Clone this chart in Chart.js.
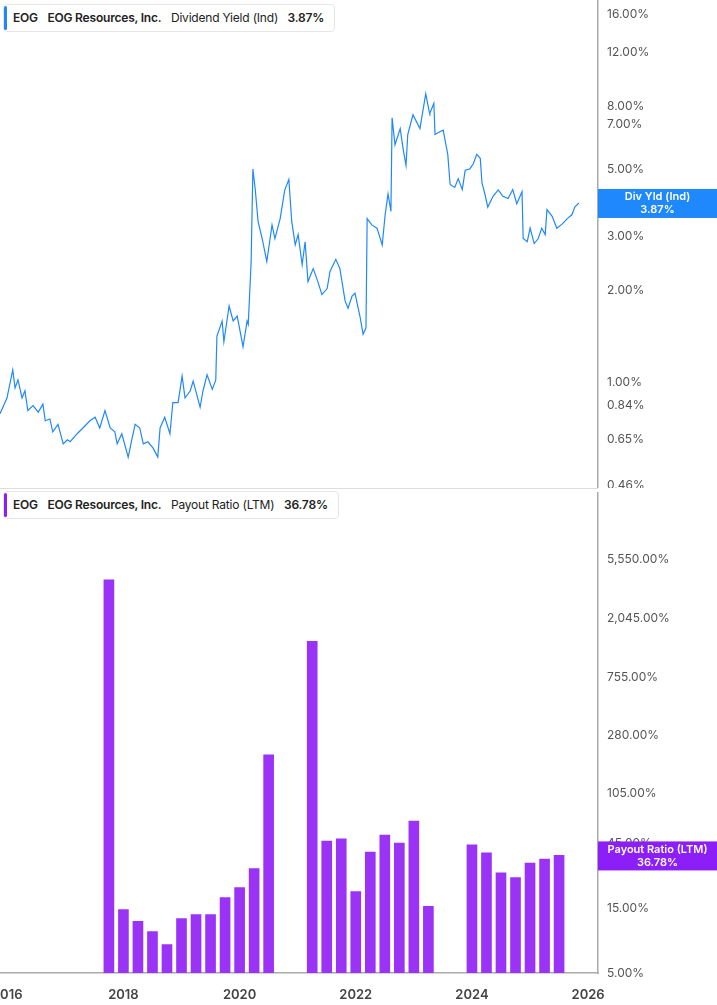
<!DOCTYPE html>
<html><head><meta charset="utf-8">
<script src="https://cdn.jsdelivr.net/npm/chart.js@4"></script>
<style>
body{margin:0;width:717px;height:1005px;overflow:hidden;background:#fff;font-family:Inter,sans-serif;}
.clip{position:absolute;left:0;width:717px;overflow:hidden;}
#c1w{position:absolute;left:0;top:-12px;width:717px;height:514px;}
#c2w{position:absolute;left:-14px;top:-8px;width:731px;height:525px;}
.leg{position:absolute;left:3px;height:26px;line-height:26px;border:1px solid #e6e6e6;border-radius:4px;background:#fff;font-size:12px;letter-spacing:-0.2px;color:#222;padding:0 10px 0 9px;white-space:pre;}
.leg:before{content:"";position:absolute;left:0;top:1px;bottom:1px;width:3px;border-radius:2px;background:var(--c);}
.leg b{font-weight:600;}
</style></head><body>
<div class="clip" style="top:0;height:488px"><div id="c1w"><canvas id="c1"></canvas></div></div>
<div class="clip" style="top:488px;height:517px"><div id="c2w"><canvas id="c2"></canvas></div></div>
<div class="leg" style="top:4px;--c:#1e88fc"><b>EOG</b>   <b>EOG Resources, Inc.</b>   Dividend Yield (Ind)   <b>3.87%</b></div>
<div class="leg" style="top:491px;--c:#8c1ef7"><b>EOG</b>   <b>EOG Resources, Inc.</b>   Payout Ratio (LTM)   <b>36.78%</b></div>
<script>
const yieldDates=[2015.86,2015.98,2016.08,2016.12,2016.17,2016.24,2016.29,2016.34,2016.43,2016.52,2016.60,2016.64,2016.72,2016.77,2016.86,2016.95,2017.02,2017.07,2017.19,2017.29,2017.41,2017.50,2017.58,2017.67,2017.76,2017.84,2017.88,2017.96,2018.07,2018.14,2018.19,2018.27,2018.33,2018.41,2018.50,2018.58,2018.62,2018.70,2018.79,2018.84,2018.93,2019.00,2019.05,2019.14,2019.19,2019.31,2019.36,2019.43,2019.52,2019.58,2019.60,2019.69,2019.72,2019.81,2019.88,2019.95,2020.05,2020.12,2020.14,2020.19,2020.22,2020.26,2020.31,2020.38,2020.46,2020.55,2020.60,2020.69,2020.77,2020.84,2020.89,2020.95,2021.00,2021.07,2021.12,2021.17,2021.26,2021.34,2021.41,2021.50,2021.55,2021.65,2021.72,2021.81,2021.86,2021.93,2021.98,2022.07,2022.12,2022.17,2022.19,2022.27,2022.36,2022.45,2022.50,2022.55,2022.60,2022.62,2022.67,2022.76,2022.81,2022.86,2022.89,2022.98,2023.10,2023.20,2023.26,2023.27,2023.34,2023.36,2023.45,2023.50,2023.58,2023.62,2023.70,2023.76,2023.83,2023.88,2023.96,2024.02,2024.08,2024.14,2024.17,2024.22,2024.27,2024.36,2024.45,2024.53,2024.62,2024.70,2024.77,2024.86,2024.88,2024.95,2025.00,2025.07,2025.14,2025.20,2025.26,2025.29,2025.38,2025.46,2025.55,2025.64,2025.72,2025.77,2025.84];
const yieldValues=[0.79,0.89,1.10,0.96,1.02,0.89,0.94,0.81,0.84,0.80,0.85,0.75,0.76,0.69,0.73,0.63,0.65,0.64,0.68,0.71,0.75,0.77,0.71,0.81,0.71,0.69,0.63,0.68,0.57,0.66,0.73,0.71,0.63,0.64,0.61,0.57,0.71,0.77,0.68,0.86,0.86,1.05,0.89,0.94,1.01,0.83,0.94,1.06,0.95,1.02,1.42,1.59,1.36,1.78,1.59,1.65,1.31,1.59,1.55,2.49,5.0,4.3,3.36,2.96,2.49,3.28,2.96,3.44,4.27,4.62,3.36,2.82,3.05,2.43,2.89,2.14,2.36,2.14,1.94,2.03,2.31,2.53,2.36,1.85,1.75,1.92,1.96,1.63,1.44,1.51,3.44,3.28,3.20,2.82,3.54,4.14,3.63,7.35,6.0,6.78,5.82,5.13,6.48,7.52,6.78,8.8,7.7,7.6,8.2,6.48,6.63,6.7,5.58,4.45,4.35,4.65,4.28,4.95,5.0,5.2,5.58,5.42,4.5,4.14,3.75,4.07,4.27,4.07,4.0,4.28,3.85,4.21,2.96,2.89,3.2,2.85,2.96,3.20,3.05,3.68,3.5,3.2,3.3,3.44,3.54,3.75,3.87];
const payoutQuarters=[2017.75,2018.0,2018.25,2018.5,2018.75,2019.0,2019.25,2019.5,2019.75,2020.0,2020.25,2020.5,2020.75,2021.0,2021.25,2021.5,2021.75,2022.0,2022.25,2022.5,2022.75,2023.0,2023.25,2023.5,2023.75,2024.0,2024.25,2024.5,2024.75,2025.0,2025.25,2025.5];
const payoutValues=[3960,14.7,12,10.1,8.1,12.6,13.5,13.5,18,21.3,29.4,203,null,null,1393,47,48.7,19.9,39,52,45.4,66,15.5,null,null,44,38.5,27.4,25.2,32.3,34.6,36.78];
const yieldTicks=[16,12,8,7,5,3,2,1,0.84,0.65,0.46];
const payoutTicks=[5550,2045,755,280,105,45,15,5];
const yearTicks=[2016,2018,2020,2022,2024,2026];

Chart.defaults.font.family='Inter, sans-serif';
Chart.defaults.font.size=12;
Chart.defaults.color='#555';
Chart.defaults.animation=false;

function fmt(v){return v.toLocaleString('en-US',{minimumFractionDigits:2,maximumFractionDigits:2})+'%';}
function badge(color,l1,l2){return {id:'badge'+color.slice(1),afterDraw(ch){
  const ds=ch.data.datasets[0].data;const last=ds[ds.length-1];
  const ys=ch.scales.y;const y=ys.getPixelForValue(last.y);const x=ys.left;
  const c=ch.ctx;c.save();c.fillStyle=color;c.fillRect(x,y-14,ch.width-x,29);
  c.fillStyle='#fff';c.font='600 11px Inter, sans-serif';c.textAlign='center';c.textBaseline='middle';
  const cx=x+(ch.width-x)/2;c.fillText(l1,cx,y-6);c.fillText(l2,cx,y+7);c.restore();}};}

const xBase={type:'linear',min:2015.86,max:2026.17,offset:false,grid:{display:false,offset:false},border:{display:false},
  afterBuildTicks(s){s.ticks=yearTicks.map(v=>({value:v}));}};
function yAxis(ticks,min,max){return {type:'logarithmic',position:'right',min,max,
  grid:{display:false,drawOnChartArea:false,drawTicks:true,tickLength:3,color:'#888'},
  border:{display:true,color:'#aaa',width:1.5},
  afterBuildTicks(s){s.ticks=ticks.map(v=>({value:v}));},
  afterFit(s){s.width=119;},
  ticks:{padding:6,callback:v=>fmt(v),autoSkip:false,color:'#555'}};}

new Chart(document.getElementById('c1'),{type:'line',
  data:{datasets:[{data:yieldDates.map((d,i)=>({x:d,y:yieldValues[i]})),borderColor:'#1e88fc',borderWidth:1.2,pointRadius:0,tension:0}]},
  options:{responsive:true,maintainAspectRatio:false,layout:{padding:0},
    plugins:{legend:{display:false},tooltip:{enabled:false}},
    scales:{x:Object.assign({},xBase,{display:false}),y:yAxis(yieldTicks,0.449,17.7)}},
  plugins:[badge('#1e88fc','Div Yld (Ind)','3.87%')]});

new Chart(document.getElementById('c2'),{type:'bar',
  data:{datasets:[{data:payoutQuarters.map((d,i)=>({x:d,y:payoutValues[i]})),backgroundColor:'#9b33f7',barThickness:10}]},
  options:{responsive:true,maintainAspectRatio:false,layout:{padding:0},
    plugins:{legend:{display:false},tooltip:{enabled:false}},
    scales:{x:Object.assign({},xBase,{border:{display:true,color:'#aaa',width:1.5},
        afterFit(s){s.height=32;},ticks:{padding:6,color:'#444',font:{size:13,weight:'600'},callback:v=>String(v)}}),
      y:yAxis(payoutTicks,5,17200)}},
  plugins:[badge('#8c1ef7','Payout Ratio (LTM)','36.78%'),{id:'sep',afterDraw(ch){const c=ch.ctx;c.save();c.strokeStyle='#ddd';c.beginPath();c.moveTo(0,8.5);c.lineTo(ch.scales.y.left,8.5);c.stroke();c.restore();}}]});
</script>
</body></html>
